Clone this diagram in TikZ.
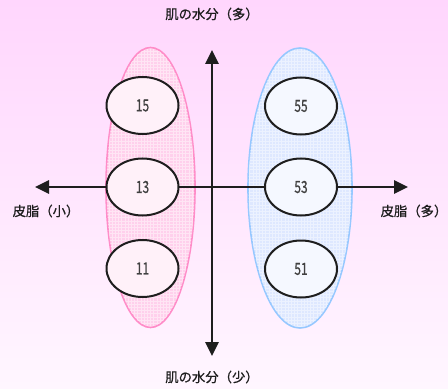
\documentclass[tikz,border=0pt]{standalone}
\usepackage{fontspec}
\setmainfont{Noto Sans CJK JP}
\newfontfamily\jpm{Noto Sans CJK JP}[FakeBold=0.8]
\usetikzlibrary{shapes.geometric,arrows.meta}
\definecolor{bgtop}{RGB}{255,214,253}
\definecolor{bgbot}{RGB}{255,246,255}
\definecolor{pinkfill}{RGB}{255,208,236}
\definecolor{pinkedge}{RGB}{255,140,200}
\definecolor{bluefill}{RGB}{222,232,255}
\definecolor{blueedge}{RGB}{150,200,255}
\definecolor{ink}{RGB}{30,30,30}
\tikzset{
  bigL/.style={ellipse, draw=pinkedge, line width=1.2pt, fill=pinkfill, minimum width=66.75pt, minimum height=210pt, inner sep=0pt},
  bigR/.style={ellipse, draw=blueedge, line width=1.2pt, fill=bluefill, minimum width=78pt, minimum height=210pt, inner sep=0pt},
  smallL/.style={ellipse, draw=ink, line width=1.5pt, fill=white!70!pinkfill, minimum width=54pt, minimum height=42.75pt, inner sep=0pt, font=\jpm\fontsize{12.5pt}{14pt}\selectfont, text=ink!85},
  smallR/.style={smallL, fill=white!70!bluefill},
  axis/.style={ink, line width=1.5pt, -{Triangle[length=10.5pt,width=10pt]}},
  lbl/.style={font=\jpm\fontsize{10pt}{12pt}\selectfont, text=ink, inner sep=0pt}
}
\newcommand{\cnum}[1]{\scalebox{0.72}[1]{#1}}
\begin{document}
\begin{tikzpicture}[x=0.75pt,y=-0.75pt]
\useasboundingbox (0,0) rectangle (448,388);
\shade[top color=bgtop, bottom color=bgbot] (0,0) rectangle (448,388);
\node[bigL] (L) at (150.5,187.5) {};
\node[bigR] (R) at (300,188) {};
\begin{scope}
\clip (150.5,187.5) ellipse [x radius=44, y radius=139];
\draw[white, opacity=0.45, line width=0.3pt, step=2.4pt] (100,40) grid (200,335);
\end{scope}
\begin{scope}
\clip (300,188) ellipse [x radius=51.5, y radius=139];
\draw[white, opacity=0.45, line width=0.3pt, step=2.4pt] (240,40) grid (360,335);
\end{scope}
\coordinate (xl) at (35,187);
\coordinate (xr) at (408,187);
\coordinate (yt) at (212,50);
\coordinate (yb) at (212,356);
\coordinate (o) at (212,187);
\draw[axis] (o) -- (xl);
\draw[axis] (o) -- (xr);
\draw[axis] (o) -- (yt);
\draw[axis] (o) -- (yb);
\node[smallL] (n15) at (142.5,105.5) {\cnum{15}};
\node[smallL] (n13) at (142.5,187) {\cnum{13}};
\node[smallL] (n11) at (142.5,268.5) {\cnum{11}};
\node[smallR] (n55) at (301,106) {\cnum{55}};
\node[smallR] (n53) at (301,187) {\cnum{53}};
\node[smallR] (n51) at (301,269) {\cnum{51}};
\node[lbl] (top) at (212,14) {肌の水分（多）};
\node[lbl] (bot) at (212,377) {肌の水分（少）};
\node[lbl] (left) at (46,211) {皮脂（小）};
\node[lbl] (right) at (414,211) {皮脂（多）};
\end{tikzpicture}
\end{document}
